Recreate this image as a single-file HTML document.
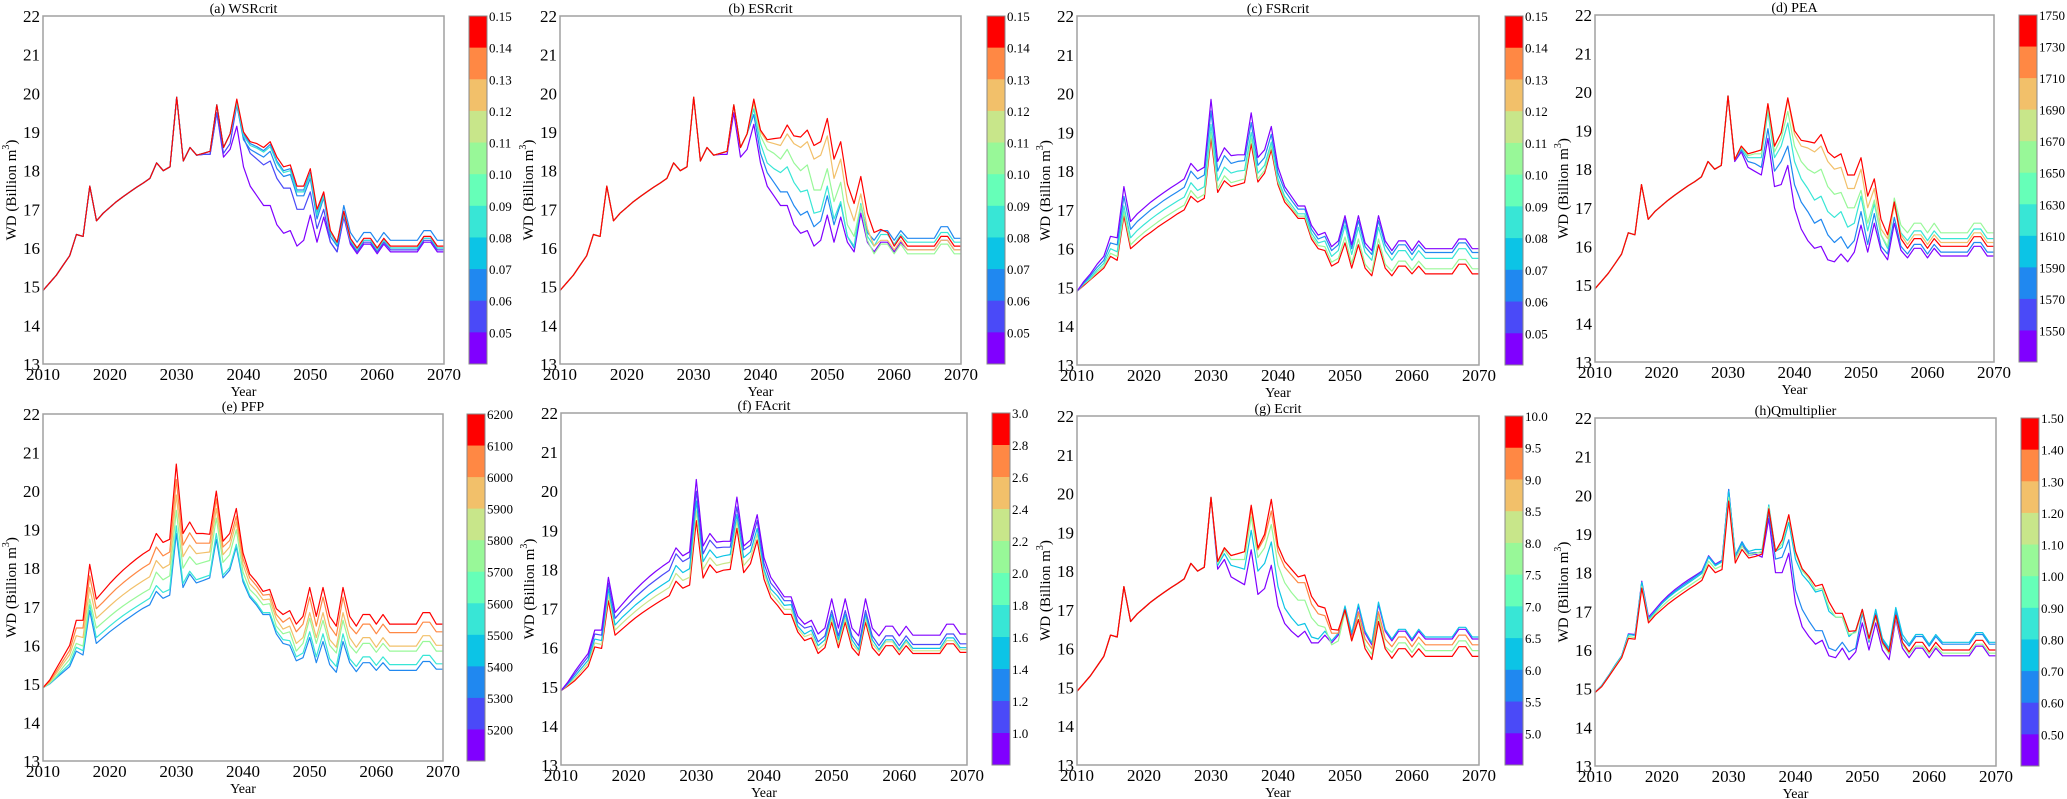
<!DOCTYPE html>
<html><head><meta charset="utf-8"><style>
html,body{margin:0;padding:0;background:#fff;}
svg{display:block;font-family:"Liberation Serif","DejaVu Serif",serif;}
</style></head><body>
<svg id="fig" width="2067" height="799" viewBox="0 0 2067 799" xmlns="http://www.w3.org/2000/svg"></svg>
<script>
// ---------- data ----------
const B = [14.9,15.1,15.3,15.55,15.8,16.35,16.3,17.6,16.7,16.9,17.05,17.2,17.33,17.45,17.57,17.68,17.8,18.2,18.0,18.1,19.9,18.25,18.6,18.4,18.45,18.5,19.7,18.6,18.95,19.85,19.0,18.75,18.7,18.6,18.75,18.35,18.1,18.15,17.6,17.6,18.05,17.0,17.45,16.45,16.15,16.95,16.25,16.0,16.25,16.25,16.0,16.25,16.05,16.05,16.05,16.05,16.05,16.3,16.3,16.05,16.05];
const PAL = ['#8000ff','#4a4af8','#2088f0','#0cc4e6','#38e6d6','#66ffb8','#98f898','#c8e68a','#f2c06a','#ff8844','#ff0000'];

const ticksA = ['0.15','0.14','0.13','0.12','0.11','0.10','0.09','0.08','0.07','0.06','0.05'];
const ticksD = ['1750','1730','1710','1690','1670','1650','1630','1610','1590','1570','1550'];
const ticksE = ['6200','6100','6000','5900','5800','5700','5600','5500','5400','5300','5200'];
const ticksF = ['3.0','2.8','2.6','2.4','2.2','2.0','1.8','1.6','1.4','1.2','1.0'];
const ticksG = ['10.0','9.5','9.0','8.5','8.0','7.5','7.0','6.5','6.0','5.5','5.0'];
const ticksH = ['1.50','1.40','1.30','1.20','1.10','1.00','0.90','0.80','0.70','0.60','0.50'];

const linesA = [
 {c:0,from:2033,d:[18.4,18.42,18.42,19.5,18.35,18.55,19.15,18.1,17.6,17.35,17.1,17.1,16.6,16.38,16.45,16.05,16.2,16.85,16.15,16.8,16.15,15.9,16.8,16.1,15.85,16.1,16.1,15.85,16.1,15.9,15.9,15.9,15.9,15.9,16.15,16.15,15.9,15.9]},
 {c:1,from:2033,d:[18.4,18.42,18.42,19.5,18.45,18.7,19.7,18.85,18.45,18.3,18.15,18.25,17.8,17.55,17.55,17.0,17.0,17.45,16.5,17.0,16.15,15.9,16.85,16.15,15.9,16.15,16.15,15.9,16.15,15.95,15.95,15.95,15.95,15.95,16.2,16.2,15.95,15.95]},
 {c:2,from:2039,d:[19.7,18.8,18.55,18.45,18.35,18.5,18.05,17.85,17.9,17.35,17.35,17.8,16.75,17.3,16.3,16.05,16.85,16.2,15.95,16.2,16.2,15.95,16.2,16.0,16.0,16.0,16.0,16.0,16.25,16.25,16.0,16.0]},
 {c:2,from:2039,d:[19.8,18.95,18.7,18.62,18.52,18.68,18.25,18.0,18.05,17.5,17.5,17.95,16.9,17.4,16.4,16.1,17.1,16.4,16.15,16.4,16.4,16.15,16.4,16.2,16.2,16.2,16.2,16.2,16.45,16.45,16.2,16.2]},
 {c:4,from:2039,d:[19.75,18.9,18.65,18.58,18.48,18.62,18.2,17.95,18.0,17.45,17.45,17.9,16.85,17.35,16.4,16.1,16.9,16.2,15.95,16.2,16.2,15.95,16.2,16.0,16.0,16.0,16.0,16.0,16.25,16.25,16.0,16.0]},
 {c:10,from:2010,d:B}
];
const linesB = [
 {c:0,from:2033,d:[18.4,18.42,18.42,19.5,18.35,18.55,19.2,18.2,17.6,17.35,17.1,17.1,16.6,16.38,16.45,16.05,16.2,16.85,16.15,16.8,16.15,15.9,16.9,16.15,15.9,16.15,16.15,15.9,16.15,15.95,15.95,15.95,15.95,15.95,16.2,16.2,15.95,15.95]},
 {c:2,from:2039,d:[19.45,18.45,17.95,17.7,17.45,17.45,17.1,16.85,16.95,16.55,16.7,17.35,16.6,17.15,16.3,16.0,17.1,16.4,16.2,16.45,16.45,16.2,16.45,16.25,16.25,16.25,16.25,16.25,16.55,16.55,16.25,16.25]},
 {c:4,from:2039,d:[19.6,18.7,18.2,18.05,17.95,18.1,17.7,17.45,17.5,16.9,16.95,17.6,16.75,17.2,16.3,16.05,17.15,16.3,16.05,16.35,16.35,16.1,16.35,16.15,16.15,16.15,16.15,16.15,16.4,16.4,16.15,16.15]},
 {c:6,from:2039,d:[19.75,18.9,18.55,18.45,18.3,18.55,18.2,18.0,18.15,17.5,17.5,18.05,17.2,17.7,16.6,16.3,17.1,16.2,15.85,16.1,16.1,15.85,16.1,15.85,15.85,15.85,15.85,15.85,16.1,16.1,15.85,15.85]},
 {c:8,from:2039,d:[19.8,19.0,18.75,18.7,18.65,18.95,18.7,18.6,18.75,18.3,18.4,18.9,17.8,18.3,17.2,16.7,17.4,16.5,16.05,16.2,16.2,15.95,16.2,15.95,15.95,15.95,15.95,15.95,16.2,16.2,15.95,15.95]},
 {c:10,from:2039,d:[19.85,19.05,18.8,18.83,18.85,19.18,18.9,18.87,19.05,18.65,18.75,19.35,18.3,18.75,17.65,17.15,17.85,16.9,16.4,16.48,16.4,16.05,16.3,16.05,16.05,16.05,16.05,16.05,16.3,16.3,16.05,16.05]}
];
const linesC = [
 {c:10,from:2010,d:[14.9,15.05,15.2,15.35,15.5,15.8,15.7,16.85,16.0,16.15,16.3,16.42,16.55,16.67,16.78,16.9,17.0,17.35,17.2,17.3,18.85,17.45,17.75,17.6,17.65,17.7,18.7,17.72,17.95,18.55,17.65,17.2,17.0,16.78,16.78,16.25,16.0,15.95,15.55,15.65,16.15,15.5,16.1,15.5,15.3,16.1,15.5,15.3,15.55,15.55,15.35,15.55,15.35,15.35,15.35,15.35,15.35,15.6,15.6,15.35,15.35]},
 {c:6,from:2010,d:[14.9,15.08,15.22,15.4,15.55,15.88,15.8,16.95,16.1,16.27,16.42,16.55,16.68,16.8,16.91,17.02,17.12,17.5,17.3,17.4,19.0,17.55,17.88,17.7,17.75,17.8,18.85,17.8,18.02,18.65,17.72,17.28,17.06,16.84,16.84,16.32,16.08,16.05,15.65,15.75,16.3,15.62,16.25,15.6,15.4,16.25,15.6,15.42,15.68,15.68,15.45,15.68,15.48,15.48,15.48,15.48,15.48,15.72,15.72,15.48,15.48]},
 {c:4,from:2010,d:[14.9,15.1,15.25,15.45,15.62,16.0,15.92,17.1,16.28,16.47,16.62,16.76,16.89,17.01,17.12,17.23,17.33,17.7,17.5,17.6,19.2,17.75,18.1,17.95,18.0,18.02,19.0,17.95,18.15,18.75,17.8,17.35,17.13,16.9,16.9,16.4,16.15,16.2,15.8,15.95,16.6,15.85,16.55,15.9,15.7,16.55,15.95,15.7,15.95,15.95,15.7,15.95,15.75,15.75,15.75,15.75,15.75,16.0,16.0,15.75,15.75]},
 {c:2,from:2010,d:[14.9,15.12,15.3,15.52,15.7,16.15,16.1,17.35,16.5,16.7,16.85,17.0,17.12,17.25,17.36,17.47,17.58,18.0,17.8,17.9,19.55,18.0,18.4,18.2,18.25,18.27,19.25,18.15,18.35,18.95,17.95,17.5,17.25,17.02,17.02,16.5,16.25,16.32,15.95,16.1,16.75,16.0,16.72,16.05,15.85,16.72,16.1,15.85,16.1,16.1,15.85,16.1,15.9,15.9,15.9,15.9,15.9,16.15,16.15,15.9,15.9]},
 {c:0,from:2010,d:[14.9,15.15,15.35,15.6,15.8,16.32,16.28,17.6,16.7,16.9,17.05,17.2,17.33,17.45,17.57,17.68,17.8,18.2,18.0,18.1,19.85,18.25,18.6,18.4,18.42,18.42,19.5,18.35,18.55,19.15,18.1,17.6,17.35,17.1,17.1,16.6,16.35,16.42,16.05,16.2,16.85,16.1,16.85,16.15,15.95,16.85,16.2,15.95,16.2,16.2,15.95,16.2,16.0,16.0,16.0,16.0,16.0,16.25,16.25,16.0,16.0]}
];
const linesD = [
 {c:0,from:2031,d:[18.2,18.45,18.05,17.95,17.85,18.8,17.55,17.6,18.1,17.0,16.45,16.15,15.95,16.0,15.65,15.6,15.8,15.6,15.85,16.55,15.85,16.6,15.9,15.65,16.6,15.9,15.7,15.95,15.95,15.7,15.95,15.75,15.75,15.75,15.75,15.75,16.0,16.0,15.75,15.75]},
 {c:2,from:2031,d:[18.25,18.5,18.2,18.15,18.05,19.05,17.95,18.2,18.6,17.6,17.15,16.9,16.6,16.7,16.3,16.1,16.25,15.95,16.15,16.9,16.05,16.85,16.0,15.8,16.75,16.0,15.8,16.05,16.05,15.8,16.05,15.85,15.85,15.85,15.85,15.85,16.1,16.1,15.85,15.85]},
 {c:4,from:2031,d:[18.25,18.55,18.3,18.3,18.3,19.5,18.3,18.6,19.2,18.2,17.75,17.5,17.2,17.3,16.9,16.75,16.9,16.5,16.6,17.3,16.4,17.1,16.3,15.95,17.15,16.35,16.15,16.4,16.4,16.15,16.4,16.2,16.2,16.2,16.2,16.2,16.45,16.45,16.2,16.2]},
 {c:6,from:2031,d:[18.25,18.58,18.35,18.4,18.4,19.6,18.45,18.8,19.5,18.6,18.2,18.0,17.9,18.0,17.55,17.35,17.4,17.0,17.0,17.45,16.6,17.2,16.3,16.0,17.25,16.55,16.35,16.6,16.6,16.35,16.6,16.35,16.35,16.35,16.35,16.35,16.6,16.6,16.35,16.35]},
 {c:8,from:2031,d:[18.25,18.6,18.4,18.45,18.5,19.7,18.6,18.95,19.8,18.9,18.6,18.55,18.45,18.6,18.2,18.0,18.05,17.5,17.5,18.0,17.0,17.5,16.45,16.2,17.05,16.3,16.05,16.3,16.3,16.05,16.3,16.1,16.1,16.1,16.1,16.1,16.35,16.35,16.1,16.1]},
 {c:10,from:2040,d:[19.0,18.75,18.72,18.68,18.9,18.45,18.3,18.4,17.85,17.85,18.3,17.3,17.75,16.7,16.3,17.15,16.2,15.95,16.2,16.2,15.95,16.2,16.0,16.0,16.0,16.0,16.0,16.25,16.25,16.0,16.0]}
];
const linesE = [
 {c:2,from:2010,d:[14.9,15.0,15.15,15.3,15.45,15.85,15.75,16.9,16.05,16.2,16.35,16.48,16.61,16.73,16.85,16.96,17.05,17.4,17.22,17.3,18.9,17.5,17.85,17.62,17.68,17.75,18.75,17.75,17.95,18.55,17.65,17.25,17.05,16.8,16.8,16.3,16.05,16.0,15.6,15.68,16.2,15.55,16.1,15.5,15.3,16.1,15.55,15.32,15.55,15.55,15.35,15.55,15.35,15.35,15.35,15.35,15.35,15.58,15.58,15.38,15.38]},
 {c:4,from:2010,d:[14.9,15.01,15.17,15.35,15.52,15.95,15.86,17.05,16.2,16.35,16.5,16.64,16.77,16.89,17.0,17.11,17.22,17.55,17.37,17.45,19.1,17.6,17.92,17.7,17.76,17.82,18.9,17.82,18.02,18.62,17.72,17.3,17.1,16.85,16.85,16.38,16.15,16.12,15.7,15.8,16.35,15.7,16.3,15.65,15.45,16.3,15.65,15.45,15.7,15.7,15.48,15.7,15.5,15.5,15.5,15.5,15.5,15.74,15.74,15.52,15.52]},
 {c:6,from:2010,d:[14.9,15.02,15.2,15.43,15.64,16.05,15.98,17.2,16.45,16.6,16.75,16.89,17.02,17.14,17.25,17.36,17.46,17.9,17.7,17.8,19.5,18.0,18.3,18.1,18.15,18.2,19.3,18.15,18.35,19.0,17.9,17.45,17.28,17.05,17.08,16.5,16.3,16.35,15.85,16.05,16.7,16.05,16.65,16.0,15.8,16.65,16.0,15.8,16.05,16.05,15.82,16.05,15.85,15.85,15.85,15.85,15.85,16.1,16.1,15.85,15.85]},
 {c:8,from:2010,d:[14.9,15.05,15.27,15.52,15.76,16.25,16.2,17.5,16.7,16.86,17.02,17.17,17.31,17.44,17.56,17.67,17.78,18.2,18.0,18.1,19.9,18.3,18.6,18.38,18.4,18.42,19.55,18.35,18.55,19.2,18.1,17.6,17.42,17.18,17.2,16.68,16.42,16.5,16.05,16.2,16.85,16.2,16.85,16.15,15.95,16.85,16.2,15.95,16.2,16.2,15.95,16.2,15.98,15.98,15.98,15.98,15.98,16.25,16.25,16.0,16.0]},
 {c:9,from:2010,d:[14.9,15.07,15.33,15.6,15.87,16.45,16.45,17.8,16.95,17.12,17.3,17.47,17.62,17.76,17.89,18.01,18.12,18.55,18.32,18.42,20.3,18.6,18.92,18.65,18.65,18.65,19.8,18.55,18.72,19.35,18.25,17.75,17.55,17.3,17.32,16.8,16.6,16.72,16.35,16.55,17.25,16.5,17.25,16.5,16.25,17.25,16.5,16.3,16.55,16.55,16.3,16.55,16.33,16.33,16.33,16.33,16.33,16.6,16.6,16.35,16.35]},
 {c:10,from:2010,d:[14.9,15.1,15.4,15.7,16.0,16.65,16.65,18.1,17.2,17.4,17.6,17.78,17.95,18.1,18.24,18.37,18.48,18.9,18.67,18.75,20.7,18.9,19.2,18.9,18.9,18.88,20.0,18.7,18.9,19.55,18.4,17.85,17.65,17.4,17.45,16.95,16.8,16.9,16.55,16.75,17.5,16.75,17.5,16.75,16.5,17.5,16.75,16.5,16.8,16.8,16.55,16.8,16.55,16.55,16.55,16.55,16.55,16.85,16.85,16.55,16.55]}
];
const linesF = [
 {c:10,from:2010,d:[14.9,15.02,15.15,15.33,15.52,16.02,15.98,17.2,16.32,16.47,16.62,16.76,16.89,17.01,17.12,17.23,17.33,17.7,17.52,17.6,19.25,17.78,18.12,17.92,17.98,18.0,19.05,17.92,18.15,18.75,17.75,17.28,17.08,16.85,16.85,16.4,16.18,16.25,15.85,16.0,16.65,16.0,16.65,16.0,15.8,16.65,16.0,15.8,16.05,16.05,15.82,16.05,15.85,15.85,15.85,15.85,15.85,16.1,16.1,15.88,15.88]},
 {c:7,from:2010,d:[14.9,15.05,15.2,15.4,15.6,16.12,16.08,17.35,16.45,16.62,16.78,16.93,17.07,17.2,17.32,17.43,17.54,17.9,17.72,17.8,19.5,18.0,18.3,18.1,18.15,18.18,19.25,18.1,18.3,18.9,17.9,17.4,17.2,16.98,16.98,16.48,16.28,16.35,15.95,16.1,16.75,16.1,16.75,16.1,15.9,16.75,16.1,15.9,16.15,16.15,15.9,16.15,15.92,15.92,15.92,15.92,15.92,16.18,16.18,15.95,15.95]},
 {c:3,from:2010,d:[14.9,15.07,15.26,15.47,15.68,16.22,16.18,17.5,16.58,16.77,16.93,17.09,17.23,17.37,17.49,17.61,17.72,18.1,17.92,18.02,19.75,18.2,18.5,18.3,18.35,18.38,19.4,18.3,18.45,19.05,18.0,17.5,17.32,17.08,17.1,16.55,16.35,16.45,16.05,16.2,16.85,16.2,16.85,16.2,15.95,16.85,16.2,15.95,16.2,16.2,15.95,16.2,15.98,15.98,15.98,15.98,15.98,16.25,16.25,16.0,16.0]},
 {c:1,from:2010,d:[14.9,15.1,15.32,15.55,15.77,16.35,16.32,17.65,16.75,16.95,17.12,17.29,17.45,17.6,17.73,17.86,17.98,18.4,18.2,18.3,20.0,18.4,18.75,18.55,18.57,18.57,19.6,18.5,18.62,19.25,18.15,17.65,17.45,17.2,17.2,16.65,16.5,16.55,16.15,16.3,16.95,16.3,16.95,16.3,16.05,16.95,16.3,16.05,16.3,16.3,16.05,16.3,16.08,16.08,16.08,16.08,16.08,16.35,16.35,16.1,16.1]},
 {c:0,from:2010,d:[14.9,15.12,15.38,15.62,15.85,16.45,16.45,17.8,16.9,17.1,17.3,17.48,17.65,17.81,17.95,18.08,18.2,18.55,18.35,18.45,20.3,18.6,18.92,18.7,18.72,18.72,19.85,18.6,18.75,19.4,18.3,17.8,17.55,17.3,17.3,16.8,16.6,16.7,16.35,16.5,17.25,16.5,17.25,16.5,16.3,17.25,16.5,16.3,16.55,16.55,16.3,16.55,16.32,16.32,16.32,16.32,16.32,16.6,16.6,16.35,16.35]}
];
const linesG = [
 {c:0,from:2031,d:[18.05,18.3,17.85,17.75,17.65,18.55,17.4,17.55,18.15,17.1,16.65,16.45,16.3,16.45,16.15,16.15,16.35,16.15,16.35,17.05,16.35,17.1,16.4,16.1,17.15,16.45,16.2,16.45,16.45,16.2,16.45,16.25,16.25,16.25,16.25,16.25,16.5,16.5,16.25,16.25]},
 {c:3,from:2031,d:[18.15,18.45,18.15,18.1,18.05,19.05,18.0,18.2,18.75,17.6,17.05,16.8,16.6,16.65,16.3,16.25,16.45,16.2,16.4,17.1,16.4,17.15,16.45,16.15,17.2,16.5,16.25,16.5,16.5,16.25,16.5,16.3,16.3,16.3,16.3,16.3,16.55,16.55,16.3,16.3]},
 {c:6,from:2031,d:[18.2,18.55,18.3,18.3,18.3,19.4,18.35,18.6,19.2,18.15,17.7,17.45,17.25,17.25,16.8,16.6,16.55,16.1,16.2,16.95,16.2,16.9,16.1,15.85,16.85,16.05,15.9,16.15,16.15,15.9,16.15,15.95,15.95,15.95,15.95,15.95,16.2,16.2,15.95,15.95]},
 {c:9,from:2031,d:[18.25,18.6,18.4,18.45,18.5,19.6,18.55,18.85,19.55,18.5,18.1,17.9,17.7,17.7,17.15,16.9,16.85,16.4,16.4,17.0,16.25,16.95,16.25,16.0,16.95,16.25,16.05,16.3,16.3,16.05,16.3,16.1,16.1,16.1,16.1,16.1,16.35,16.35,16.1,16.1]},
 {c:10,from:2040,d:[18.65,18.25,18.05,17.85,17.9,17.35,17.1,17.05,16.5,16.48,17.0,16.2,16.75,16.0,15.72,16.7,16.0,15.75,16.0,16.0,15.78,16.0,15.8,15.8,15.8,15.8,15.8,16.05,16.05,15.8,15.8]}
];
const linesH = [
 {c:0,from:2010,d:[14.9,15.08,15.33,15.6,15.85,16.42,16.4,17.78,16.85,17.05,17.25,17.42,17.57,17.7,17.82,17.93,18.04,18.44,18.22,18.32,20.15,18.42,18.75,18.45,18.48,18.4,19.4,18.0,18.0,18.5,17.2,16.6,16.35,16.15,16.25,15.85,15.8,16.05,15.75,15.95,16.7,16.0,16.7,16.0,15.75,16.8,16.05,15.8,16.05,16.05,15.8,16.05,15.85,15.85,15.85,15.85,15.85,16.1,16.1,15.85,15.85]},
 {c:2,from:2010,d:[14.9,15.08,15.33,15.6,15.85,16.4,16.38,17.75,16.8,17.0,17.2,17.38,17.53,17.66,17.78,17.9,18.02,18.42,18.2,18.3,20.15,18.45,18.8,18.5,18.52,18.52,19.55,18.35,18.4,18.85,17.55,17.05,16.75,16.5,16.5,16.05,15.98,16.2,15.95,16.05,16.95,16.2,16.95,16.25,16.0,17.0,16.3,16.1,16.35,16.35,16.1,16.35,16.15,16.15,16.15,16.15,16.15,16.4,16.4,16.15,16.15]},
 {c:3,from:2010,d:[14.9,15.08,15.33,15.6,15.85,16.4,16.38,17.75,16.8,17.0,17.2,17.36,17.5,17.62,17.74,17.86,17.98,18.4,18.18,18.28,20.1,18.45,18.75,18.55,18.6,18.6,19.75,18.55,18.65,19.3,18.35,17.95,17.75,17.5,17.55,17.0,16.85,16.85,16.35,16.5,17.05,16.3,17.05,16.3,16.05,17.1,16.4,16.15,16.4,16.4,16.15,16.4,16.2,16.2,16.2,16.2,16.2,16.45,16.45,16.2,16.2]},
 {c:6,from:2010,d:[14.9,15.06,15.31,15.57,15.82,16.35,16.32,17.65,16.75,16.95,17.12,17.28,17.41,17.53,17.65,17.77,17.88,18.3,18.1,18.18,19.95,18.35,18.68,18.45,18.5,18.55,19.7,18.55,18.75,19.45,18.5,18.05,17.85,17.55,17.6,17.1,16.85,16.85,16.4,16.45,17.0,16.25,16.85,16.15,15.9,16.85,16.15,15.9,16.1,16.1,15.9,16.1,15.92,15.92,15.92,15.92,15.92,16.15,16.15,15.92,15.92]},
 {c:10,from:2010,d:[14.9,15.05,15.3,15.55,15.8,16.3,16.28,17.6,16.7,16.9,17.05,17.2,17.33,17.45,17.57,17.68,17.8,18.2,18.0,18.08,19.85,18.25,18.6,18.38,18.42,18.48,19.65,18.55,18.85,19.5,18.55,18.1,17.9,17.65,17.7,17.25,16.95,16.95,16.48,16.5,17.05,16.3,16.9,16.2,15.95,16.9,16.2,15.95,16.2,16.2,15.95,16.2,16.0,16.0,16.0,16.0,16.0,16.25,16.25,16.0,16.0]}
];
const yTicks = [13,14,15,16,17,18,19,20,21,22];
const xTicks = [2010,2020,2030,2040,2050,2060,2070];

const panels = [
 {key:'a',title:'(a) WSRcrit',x0:43,x1:444,y0:16,y1:364,cb:469,ticks:ticksA,lines:linesA},
 {key:'b',title:'(b) ESRcrit',x0:560,x1:961,y0:16,y1:364,cb:987,ticks:ticksA,lines:linesB},
 {key:'c',title:'(c) FSRcrit',x0:1077,x1:1479,y0:16,y1:365,cb:1505,ticks:ticksA,lines:linesC},
 {key:'d',title:'(d) PEA',x0:1595,x1:1994,y0:15,y1:362,cb:2019,ticks:ticksD,lines:linesD},
 {key:'e',title:'(e) PFP',x0:43,x1:443,y0:414,y1:761,cb:467,ticks:ticksE,lines:linesE},
 {key:'f',title:'(f) FAcrit',x0:561,x1:967,y0:413,y1:765,cb:992,ticks:ticksF,lines:linesF},
 {key:'g',title:'(g) Ecrit',x0:1077,x1:1479,y0:416,y1:765,cb:1505,ticks:ticksG,lines:linesG},
 {key:'h',title:'(h)Qmultiplier',x0:1595,x1:1996,y0:418,y1:766,cb:2021,ticks:ticksH,lines:linesH}
];

// ---------- drawing ----------
const NS='http://www.w3.org/2000/svg';
const svg=document.getElementById('fig');
function mk(tag,attrs,parent){const e=document.createElementNS(NS,tag);for(const k in attrs)e.setAttribute(k,attrs[k]);parent.appendChild(e);return e;}

panels.forEach(p=>{
  const g=mk('g',{},svg);
  
  
  const X=yr=>p.x0+(yr-2010)/60*(p.x1-p.x0);
  const Y=v=>p.y1-(v-13)/9*(p.y1-p.y0);
  p.lines.forEach((ln,li)=>{
    const full=B.slice(0,ln.from-2010).concat(ln.d);
    let d='';
    full.forEach((v,i)=>{d+=(i?'L':'M')+X(2010+i).toFixed(1)+' '+Y(v).toFixed(1);});
    const path=mk('path',{d:d,fill:'none',stroke:PAL[ln.c],'stroke-width':1.2,'stroke-linejoin':'round'},g);
    
    
  });
  const fr=mk('rect',{x:p.x0,y:p.y0,width:p.x1-p.x0,height:p.y1-p.y0,fill:'none',stroke:'#a0a0a0','stroke-width':1.5},g);
  
  
  yTicks.forEach(t=>{
    const tx=mk('text',{x:p.x0-3,y:Y(t)+6,'text-anchor':'end','font-size':17},g);
    tx.textContent=t;
    
    
  });
  xTicks.forEach(t=>{
    const tx=mk('text',{x:X(t),y:p.y1+16,'text-anchor':'middle','font-size':17},g);
    tx.textContent=t;
    
    
  });
  const xt=mk('text',{x:(p.x0+p.x1)/2,y:p.y1+32,'text-anchor':'middle','font-size':14},g);
  xt.textContent='Year';
  
  
  const cy=(p.y0+p.y1)/2;
  const yt=mk('text',{x:0,y:0,'text-anchor':'middle','font-size':15,transform:'translate('+(p.x0-27)+','+cy+') rotate(-90)'},g);
  yt.innerHTML='WD (Billion m<tspan dy="-7" font-size="10">3</tspan><tspan dy="7">)</tspan>';
  
  
  const tt=mk('text',{x:(p.x0+p.x1)/2,y:p.y0-3,'text-anchor':'middle','font-size':14},g);
  tt.textContent=p.title;
  
  
  const cbg=mk('g',{},g);
  
  
  const h=(p.y1-p.y0)/11;
  for(let k=0;k<11;k++){
    const r=mk('rect',{x:p.cb,y:p.y0+k*h,width:18,height:h+0.5,fill:PAL[10-k]},cbg);
    
    
  }
  const cf=mk('rect',{x:p.cb,y:p.y0,width:18,height:p.y1-p.y0,fill:'none',stroke:'#888','stroke-width':1},cbg);
  
  
  p.ticks.forEach((t,k)=>{
    const tx=mk('text',{x:p.cb+20,y:p.y0+k*h+5,'font-size':13},cbg);
    tx.textContent=t;
    
    
  });
});
</script>
</body></html>
